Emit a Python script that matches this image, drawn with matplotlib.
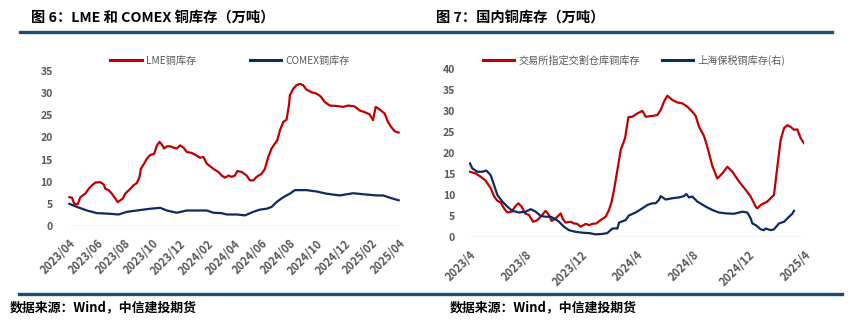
import matplotlib
matplotlib.use("Agg")
import matplotlib.pyplot as plt
from matplotlib.lines import Line2D

plt.rcParams['font.family'] = ['Noto Sans CJK SC', 'DejaVu Sans']

# ---------------- 图 6: LME / COMEX 铜库存 (万吨) ----------------
# x = months elapsed since 2023/04
lme_month = [0.00, 0.19, 0.36, 0.61, 0.80, 1.16, 1.41, 1.65, 1.89, 2.25, 2.50, 2.62,
             2.86, 3.10, 3.35, 3.52, 3.71, 3.90, 4.07, 4.44, 4.68, 4.92, 5.12, 5.21,
             5.45, 5.65, 5.89, 6.18, 6.38, 6.57, 6.74, 6.91, 7.10, 7.35, 7.59, 7.83,
             8.07, 8.32, 8.56, 8.92, 9.16, 9.53, 9.77, 10.01, 10.50, 10.86, 11.10, 11.35,
             11.59, 11.83, 12.07, 12.24, 12.56, 12.92, 13.16, 13.41, 13.65, 14.01, 14.25,
             14.50, 14.74, 14.98, 15.15, 15.35, 15.59, 15.83, 16.02, 16.07, 16.32, 16.56,
             16.80, 17.04, 17.28, 17.65, 18.01, 18.30, 18.62, 18.98, 19.47, 19.95, 20.32,
             20.80, 21.16, 21.53, 21.89, 22.13, 22.33, 22.62, 22.98, 23.22, 23.47, 23.71, 24.00]
lme_stock = [6.5, 6.4, 5.0, 4.9, 6.5, 7.3, 8.4, 9.2, 9.8, 9.9, 9.4, 8.4,
             8.1, 7.3, 6.2, 5.4, 5.8, 6.2, 7.3, 8.4, 9.2, 9.7, 11.1, 12.9,
             14.1, 15.2, 16.0, 16.3, 18.2, 19.0, 18.4, 17.5, 18.0, 18.0, 17.7, 17.5,
             18.2, 17.7, 16.7, 16.5, 16.1, 15.4, 15.6, 14.1, 12.9, 12.2, 11.4, 10.9,
             11.4, 11.1, 11.4, 12.4, 12.2, 11.4, 10.3, 10.3, 11.1, 11.8, 12.9,
             15.6, 17.5, 18.6, 19.3, 21.6, 23.5, 24.0, 27.6, 29.5, 31.0, 31.8,
             32.1, 31.8, 30.8, 30.2, 29.9, 29.3, 28.0, 27.2, 27.1, 26.9, 27.2,
             27.0, 26.1, 25.7, 25.2, 23.9, 26.9, 26.3, 25.4, 23.5, 22.3, 21.4, 21.1]

comex_month = [0.00, 0.56, 1.28, 2.01, 2.74, 3.59, 4.19, 4.92, 5.89, 6.62, 7.10, 7.83,
               8.56, 10.01, 10.50, 11.10, 11.47, 12.19, 12.80, 13.41, 13.89, 14.38, 14.74,
               15.10, 15.59, 16.07, 16.44, 17.28, 18.01, 18.74, 19.71, 20.68, 21.65, 22.38,
               22.86, 23.35, 24.00]
comex_stock = [5.0, 4.3, 3.5, 2.9, 2.8, 2.6, 3.2, 3.5, 3.9, 4.1, 3.5, 3.0,
               3.5, 3.5, 3.0, 2.9, 2.6, 2.6, 2.4, 3.2, 3.7, 3.9, 4.3,
               5.4, 6.5, 7.3, 8.1, 8.1, 7.8, 7.3, 6.9, 7.4, 7.1, 6.9,
               6.9, 6.4, 5.8]

left_ticks = list(range(0, 25, 2))
left_tick_labels = ['2023/04', '2023/06', '2023/08', '2023/10', '2023/12', '2024/02',
                    '2024/04', '2024/06', '2024/08', '2024/10', '2024/12', '2025/02',
                    '2025/04']

# ---------------- 图 7: 国内铜库存 (万吨) ----------------
shfe_month = [0.07, 0.48, 0.84, 1.19, 1.55, 1.79, 2.03, 2.27, 2.51, 2.75, 3.06, 3.30,
              3.53, 3.77, 4.01, 4.30, 4.59, 4.90, 5.13, 5.49, 5.73, 5.92, 6.21, 6.57,
              6.73, 6.93, 7.28, 7.52, 7.76, 8.00, 8.36, 8.60, 8.84, 9.12, 9.43, 9.79,
              10.03, 10.22, 10.39, 10.63, 10.87, 11.18, 11.42, 11.70, 12.06, 12.42, 12.66,
              13.13, 13.49, 13.73, 13.97, 14.21, 14.57, 14.93, 15.28, 15.64, 16.00, 16.24,
              16.48, 16.84, 17.07, 17.43, 17.79, 18.15, 18.51, 18.87, 19.34, 19.82, 20.18,
              20.54, 20.66, 20.90, 21.13, 21.37, 21.61, 21.85, 22.09, 22.33, 22.57, 22.81,
              23.04, 23.28, 23.52, 23.76, 24.00]
shfe_stock = [15.6, 15.2, 14.4, 13.5, 11.7, 9.8, 8.7, 8.3, 6.9, 5.9, 6.1, 7.3,
              8.1, 7.3, 5.7, 5.3, 3.7, 4.1, 4.9, 6.3, 5.3, 3.9, 4.5, 5.7,
              4.3, 3.5, 3.7, 3.3, 3.2, 2.5, 3.2, 2.9, 3.2, 3.3, 4.1, 4.9,
              6.5, 8.5, 11.3, 16.0, 20.8, 23.6, 28.6, 28.7, 29.5, 30.1, 28.7,
              28.9, 29.1, 30.3, 32.3, 33.7, 32.7, 32.1, 31.9, 31.1, 29.9, 28.9,
              26.3, 24.1, 21.6, 17.0, 14.0, 15.2, 16.8, 15.6, 13.3, 11.3, 9.7,
              7.3, 6.9, 7.7, 8.1, 8.5, 9.3, 10.1, 16.8, 23.2, 26.0, 26.7,
              26.3, 25.6, 25.7, 23.6, 22.4]

bonded_month = [0.07, 0.24, 0.60, 0.96, 1.24, 1.55, 1.79, 2.03, 2.39, 2.75, 3.10, 3.58,
                4.06, 4.42, 4.78, 5.13, 5.49, 5.85, 6.21, 6.45, 6.81, 7.16, 7.64, 8.12,
                8.60, 9.07, 9.55, 9.91, 10.27, 10.63, 10.75, 11.22, 11.46, 11.94, 12.42,
                12.78, 13.13, 13.37, 13.61, 13.73, 14.09, 14.57, 15.04, 15.40, 15.57, 15.76,
                16.00, 16.36, 16.96, 17.43, 17.91, 18.39, 18.99, 19.58, 19.94, 20.18, 20.30,
                20.54, 20.90, 21.13, 21.25, 21.61, 21.85, 22.21, 22.57, 22.93, 23.16, 23.28]
bonded_stock = [17.6, 16.4, 15.6, 15.6, 15.9, 14.8, 12.5, 10.1, 8.5, 7.3, 6.3, 5.9,
                6.1, 6.7, 6.1, 5.1, 4.9, 4.9, 4.3, 3.7, 2.5, 1.7, 1.3, 1.1,
                1.0, 0.7, 0.8, 1.0, 2.1, 2.1, 3.5, 4.1, 5.2, 5.9, 6.9,
                7.7, 8.1, 8.1, 8.9, 9.8, 9.0, 9.3, 9.5, 9.8, 10.3, 9.5,
                9.7, 8.5, 7.3, 6.5, 5.9, 5.7, 5.6, 6.1, 5.9, 4.5, 3.3,
                2.9, 1.9, 1.7, 2.1, 1.7, 1.9, 3.3, 3.7, 4.9, 5.6, 6.3]

right_ticks = list(range(0, 25, 4))
right_tick_labels = ['2023/4', '2023/8', '2023/12', '2024/4', '2024/8', '2024/12', '2025/4']

# ---------------- styling ----------------
RED = '#C00000'
NAVY = '#0E2A5E'
GRAY_TXT = '#595959'
GRID = '#D9D9D9'
RULE = '#1B4F72'
W, H = 852, 325

fig = plt.figure(figsize=(W / 100, H / 100), dpi=100)


def px_axes(x0, x1, ytop, ybot):
    return fig.add_axes([x0 / W, 1 - ybot / H, (x1 - x0) / W, (ybot - ytop) / H])


def style_axes(ax, ymax, ticks, labels, xmin, xmax, ypad):
    ax.set_ylim(0, ymax)
    ax.set_xlim(xmin, xmax)
    for s in ax.spines.values():
        s.set_visible(False)
    ax.axhline(0, color=GRID, lw=1.0, zorder=0)
    ax.set_yticks(range(0, ymax + 1, 5))
    ax.set_xticks(ticks)
    ax.set_xticklabels(labels, rotation=45, ha='right', va='top', rotation_mode='anchor')
    ax.tick_params(axis='both', length=0, labelcolor=GRAY_TXT)
    ax.tick_params(axis='y', pad=ypad, labelsize=7.5)
    ax.tick_params(axis='x', pad=8, labelsize=8)
    for t in ax.get_xticklabels() + ax.get_yticklabels():
        t.set_fontweight('bold')


# left panel
ax1 = px_axes(68, 400, 71, 226)
ax1.plot(lme_month, lme_stock, color=RED, lw=1.6, label='LME铜库存')
ax1.plot(comex_month, comex_stock, color=NAVY, lw=1.6, label='COMEX铜库存')
style_axes(ax1, 35, left_ticks, left_tick_labels, -0.1, 24.1, 11)

# right panel
ax2 = px_axes(469, 804, 69.3, 237.3)
ax2.plot(shfe_month, shfe_stock, color=RED, lw=1.6, label='交易所指定交割仓库铜库存')
ax2.plot(bonded_month, bonded_stock, color=NAVY, lw=1.6, label='上海保税铜库存(右)')
style_axes(ax2, 40, right_ticks, right_tick_labels, 0, 24.0, 10)

# legends
for ax, cx, cy, gap in [(ax1, 230, 61, 5.3), (ax2, 634, 60, 2.2)]:
    leg = ax.legend(loc='center', bbox_to_anchor=(cx / W, 1 - cy / H),
                    bbox_transform=fig.transFigure, ncol=2, frameon=False,
                    fontsize=7.3, handlelength=3.1, handletextpad=0.4,
                    columnspacing=gap, borderaxespad=0)
    for t in leg.get_texts():
        t.set_color(GRAY_TXT)
    for h in leg.get_lines():
        h.set_linewidth(2.2)

# titles
fig.text(31 / W, 1 - 18 / H, '图 6：LME 和 COMEX 铜库存（万吨）', fontsize=10.3,
         fontweight='bold', ha='left', va='center', color='black')
fig.text(436 / W, 1 - 18 / H, '图 7：国内铜库存（万吨）', fontsize=10.3,
         fontweight='bold', ha='left', va='center', color='black')

# header / footer rules
fig.add_artist(Line2D([20 / W, 832 / W], [1 - 31.5 / H] * 2, color=RULE, lw=2.4))
fig.add_artist(Line2D([19 / W, 842 / W], [1 - 293.5 / H] * 2, color=RULE, lw=2.4))

# sources
for x in (10, 450):
    fig.text(x / W, 1 - 307 / H, '数据来源：Wind，中信建投期货', fontsize=9.3,
             fontweight='bold', ha='left', va='center', color='black')

fig.savefig('out.png', dpi=100)
